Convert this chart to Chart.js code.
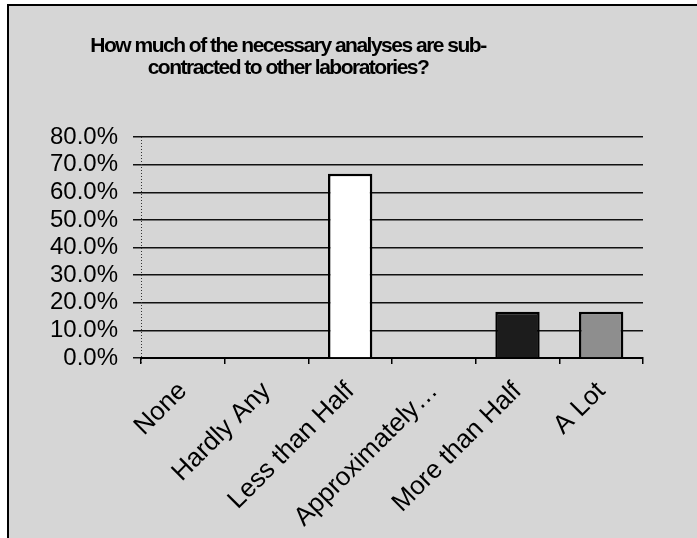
<!DOCTYPE html>
<html>
<head>
<meta charset="utf-8">
<script src="https://cdn.jsdelivr.net/npm/chart.js@4.4.1/dist/chart.umd.min.js"></script>
<style>
  html, body { margin: 0; padding: 0; background: #ffffff; overflow: hidden; }
  #wrap { width: 697px; height: 538px; position: relative; }
</style>
</head>
<body>
<div id="wrap"><canvas id="c" width="697" height="538"></canvas></div>
<script>
const titleLines = ['How much of the necessary analyses are sub-', 'contracted to other laboratories?'];
const categories = ['None', 'Hardly Any', 'Less than Half', 'Approximately…', 'More than Half', 'A Lot'];
const percentValues = [0, 0, 66.7, 0, 16.7, 16.7];
const barColors = ['#ffffff', '#ffffff', '#ffffff', '#ffffff', '#1c1c1c', '#8e8e8e'];
const yTickMin = 0, yTickMax = 80, yTickStep = 10;

const FONT = '"Liberation Sans", Arial, Helvetica, sans-serif';

const framePlugin = {
  id: 'frame',
  beforeDraw(chart) {
    const ctx = chart.ctx;
    ctx.save();
    ctx.fillStyle = '#ffffff';
    ctx.fillRect(0, 0, chart.width, chart.height);
    ctx.fillStyle = '#d6d6d6';
    ctx.fillRect(8, 5, chart.width - 8, chart.height - 5);
    ctx.strokeStyle = '#000000';
    ctx.lineWidth = 2;
    ctx.beginPath();
    ctx.moveTo(8, chart.height);
    ctx.lineTo(8, 5);
    ctx.lineTo(chart.width, 5);
    ctx.stroke();
    ctx.restore();
  },
  beforeDatasetsDraw(chart) {
    const ctx = chart.ctx;
    const a = chart.chartArea;
    ctx.save();
    ctx.strokeStyle = '#333333';
    ctx.lineWidth = 1;
    ctx.setLineDash([1, 2]);
    ctx.beginPath();
    ctx.moveTo(a.left + 0.5, a.top);
    ctx.lineTo(a.left + 0.5, a.bottom + 6);
    ctx.stroke();
    ctx.restore();
  },
  afterDraw(chart) {
    const ctx = chart.ctx;
    ctx.save();
    ctx.fillStyle = '#000000';
    ctx.font = 'bold 21px ' + FONT;
    if ('letterSpacing' in ctx) ctx.letterSpacing = '-1.5px';
    ctx.textAlign = 'center';
    ctx.textBaseline = 'middle';
    ctx.fillText(titleLines[0], 288, 46);
    ctx.fillText(titleLines[1], 288, 68);
    ctx.restore();
  }
};

new Chart(document.getElementById('c'), {
  type: 'bar',
  data: {
    labels: categories,
    datasets: [{
      data: percentValues,
      backgroundColor: barColors,
      borderColor: '#000000',
      borderWidth: 2.5,
      barPercentage: 0.53,
      categoryPercentage: 1.0
    }]
  },
  options: {
    responsive: false,
    animation: false,
    devicePixelRatio: 1,
    layout: { padding: { top: 137, right: 54, bottom: 0, left: 0 } },
    plugins: {
      legend: { display: false },
      title: { display: false },
      tooltip: { enabled: false }
    },
    scales: {
      y: {
        min: yTickMin,
        max: yTickMax,
        afterFit(scale) { scale.width = 141; },
        ticks: {
          stepSize: yTickStep,
          autoSkip: false,
          color: '#000000',
          padding: 15,
          font: { family: FONT, size: 24 },
          callback: (v) => Number(v).toFixed(1) + '%'
        },
        grid: {
          color: '#111111',
          lineWidth: 1.5,
          tickLength: 8,
          drawTicks: true
        },
        border: { display: false }
      },
      x: {
        afterFit(scale) { scale.height = 180; },
        ticks: {
          color: '#000000',
          autoSkip: false,
          maxRotation: 45,
          minRotation: 45,
          padding: 12,
          font: { family: FONT, size: 26 }
        },
        grid: {
          drawOnChartArea: false,
          drawTicks: true,
          tickLength: 6,
          color: '#000000',
          lineWidth: 1.5
        },
        border: { display: true, color: '#000000', width: 2 }
      }
    }
  },
  plugins: [framePlugin]
});
</script>
</body>
</html>
